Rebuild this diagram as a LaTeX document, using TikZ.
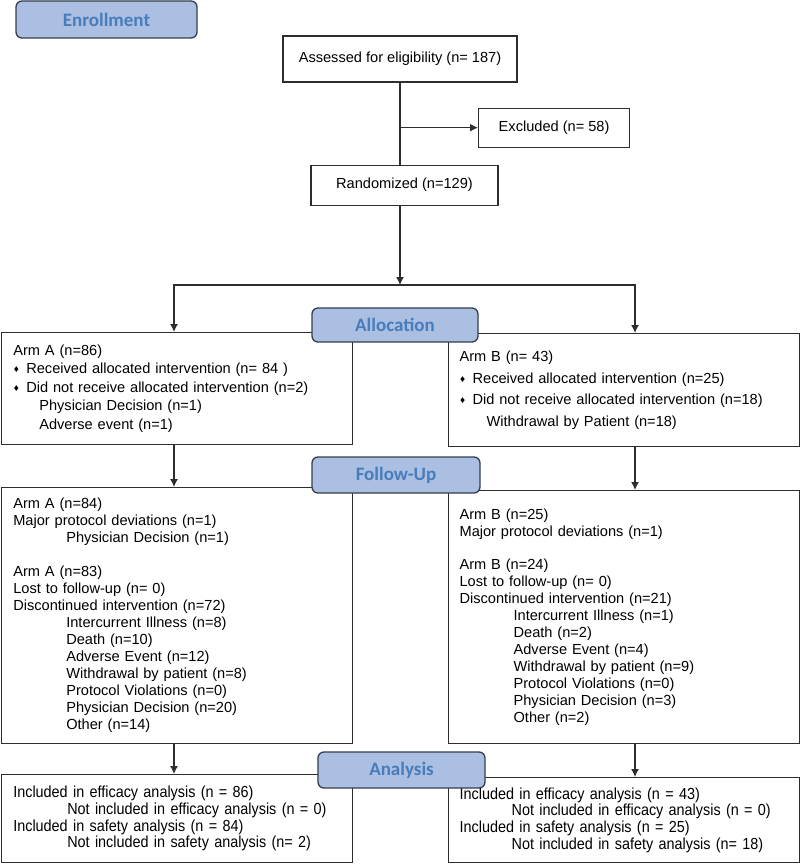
\documentclass[tikz,border=0pt]{standalone}
\usepackage{fontspec}
\setmainfont{Liberation Sans}
\newfontfamily\headfont{Carlito}
\newfontfamily\narrowfont[FakeStretch=0.9]{Liberation Sans}
\usepackage{tikz}
\usetikzlibrary{arrows.meta,positioning,calc}
\definecolor{hdrfill}{RGB}{170,191,226}
\definecolor{hdrtext}{RGB}{72,124,186}
\definecolor{hdrdraw}{RGB}{52,62,78}
\definecolor{linegray}{RGB}{45,45,45}
\newcommand{\dmd}{\makebox[13pt][l]{\hspace{0.5pt}\raisebox{1pt}{\fontsize{10}{10}\selectfont ♦}}}
\newcommand{\ind}[1]{\hspace*{#1}}
\tikzset{phase/.style={rectangle,
       rounded corners=6pt,
       draw=hdrdraw,
       line width=1.3pt,
       fill=hdrfill,
       text=hdrtext,
       font=\headfont\bfseries\fontsize{19}{19}\selectfont,
       inner sep=0pt
     },
     flowbox/.style={
       rectangle,
       draw=linegray,
       line width=1.2pt,
       fill=white,
       font=\fontsize{14.6}{17}\selectfont,
       inner sep=0pt
     },
     armbox/.style={
       flowbox,
       anchor=north west,
       minimum width=351pt,
       text width=327pt,
       inner xsep=12pt,
       align=left
     },
     armboxr/.style={
       armbox,
       text width=329pt,
       inner xsep=11pt
     },
     conn/.style={draw=linegray, line width=1.3pt},
     arr/.style={conn, -{Latex[length=8pt,width=8pt]}}
}

\begin{document}
\begin{tikzpicture}[x=1pt,y=-1pt,
    anabox/.style={font=\narrowfont\fontsize{16}{16.8}\selectfont}]
    \useasboundingbox (0,0) rectangle (800,864);
    \coordinate (colA) at (174,0);
    \coordinate (colB) at (635,0);

    \node[flowbox, minimum width=234pt, minimum height=46pt] (assess) at (400,59) {Assessed for eligibility (n= 187)};
    \node[flowbox, minimum width=187pt, minimum height=40pt] (rand) [below=82pt of assess, xshift=4.5pt] {Randomized (n=129)};
    \coordinate (exclpt) at ($(assess.south)!0.55!(assess.south |- rand.north)$);
    \node[flowbox, minimum width=151pt, minimum height=39pt] (excl) [right=78pt of exclpt] {Excluded (n= 58)};
    \coordinate (split) at (400,285);

    \node[armbox, minimum height=112pt, font=\fontsize{14.6}{18.5}\selectfont] (allocA) at (0.7,332) {Arm A (n=86)\\
      \dmd Received allocated intervention (n= 84 )\\
      \dmd Did not receive allocated intervention (n=2)\\
      \ind{26pt}Physician Decision (n=1)\\
      \ind{26pt}Adverse event (n=1)};
    \node[armboxr, minimum height=113pt, font=\fontsize{14.6}{21.6}\selectfont] (allocB) at (448,333) {Arm B (n= 43)\\
      \dmd Received allocated intervention (n=25)\\
      \dmd Did not receive allocated intervention (n=18)\\
      \ind{27pt}Withdrawal by Patient (n=18)};

    \node[armbox, minimum height=256pt] (follA) at (0.7,487) {Arm A (n=84)\\
      Major protocol deviations (n=1)\\
      \ind{53pt}Physician Decision (n=1)\\[17pt]
      Arm A (n=83)\\
      Lost to follow-up (n= 0)\\
      Discontinued intervention (n=72)\\
      \ind{53pt}Intercurrent Illness (n=8)\\
      \ind{53pt}Death (n=10)\\
      \ind{53pt}Adverse Event (n=12)\\
      \ind{53pt}Withdrawal by patient (n=8)\\
      \ind{53pt}Protocol Violations (n=0)\\
      \ind{53pt}Physician Decision (n=20)\\
      \ind{53pt}Other (n=14)};
    \node[armboxr, minimum height=253pt] (follB) at (448,490) {Arm B (n=25)\\
      Major protocol deviations (n=1)\\[16pt]
      Arm B (n=24)\\
      Lost to follow-up (n= 0)\\
      Discontinued intervention (n=21)\\
      \ind{54pt}Intercurrent Illness (n=1)\\
      \ind{54pt}Death (n=2)\\
      \ind{54pt}Adverse Event (n=4)\\
      \ind{54pt}Withdrawal by patient (n=9)\\
      \ind{54pt}Protocol Violations (n=0)\\
      \ind{54pt}Physician Decision (n=3)\\
      \ind{54pt}Other (n=2)};

    \node[armbox, anabox, minimum height=88pt] (anaA) at (0.7,774) {Included in efficacy analysis (n = 86)\\
      \ind{54pt}Not included in efficacy analysis (n = 0)\\
      Included in safety analysis (n = 84)\\
      \ind{54pt}Not included in safety analysis (n= 2)};
    \node[armboxr, anabox, minimum height=85pt] (anaB) at (448,777) {Included in efficacy analysis (n = 43)\\
      \ind{52pt}Not included in efficacy analysis (n = 0)\\
      Included in safety analysis (n = 25)\\
      \ind{52pt}Not included in safety analysis (n= 18)};

    \node[phase, minimum width=181pt, minimum height=37pt] (enroll) at (106.5,19.5) {Enrollment};
    \node[phase, minimum width=166pt, minimum height=34pt] (allocation) at (395,325) {Allocation};
    \node[phase, minimum width=168pt, minimum height=36pt] (followup) at (396,475) {Follow-Up};
    \node[phase, minimum width=167pt, minimum height=36pt] (analysis) at (401.5,770) {Analysis};

    \draw[conn] (assess) -- (rand.north -| assess.south);
    \draw[arr] (exclpt) -- (excl);
    \draw[arr] (rand.south -| split) -- (split);
    \draw[arr] (split) -| (colA |- allocA.north);
    \draw[arr] (split) -| (colB |- allocB.north);
    \draw[arr] (colA |- allocA.south) -- (colA |- follA.north);
    \draw[arr] (colB |- allocB.south) -- (colB |- follB.north);
    \draw[arr] (colA |- follA.south) -- (colA |- anaA.north);
    \draw[arr] (colB |- follB.south) -- (colB |- anaB.north);
  \end{tikzpicture}
\end{document}
